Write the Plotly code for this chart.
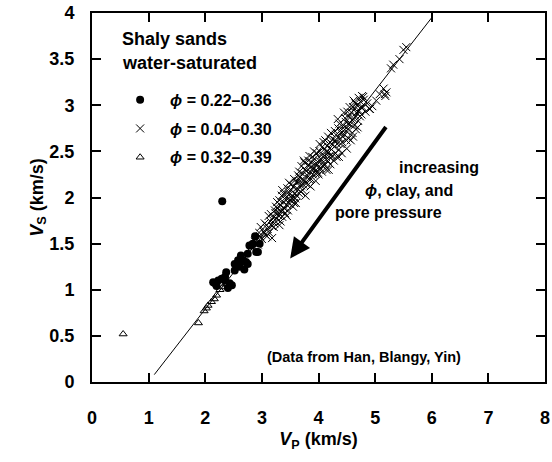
import plotly.graph_objects as go

# ---- data ----
circ_vp = [2.14, 2.17, 2.23, 2.29, 2.35, 2.35, 2.43, 2.37, 2.52, 2.52, 2.61, 2.58, 2.67, 2.72, 2.75,
           2.75, 2.78, 2.84, 2.93, 2.81, 2.90, 2.96, 2.63, 2.20, 2.40, 2.47, 2.69, 2.88, 2.30]
circ_vs = [1.08, 1.07, 1.10, 1.12, 1.10, 1.14, 1.07, 1.19, 1.28, 1.21, 1.25, 1.32, 1.32, 1.30, 1.28,
           1.39, 1.48, 1.50, 1.41, 1.48, 1.41, 1.50, 1.37, 1.04, 1.02, 1.05, 1.22, 1.58, 1.96]

cross_vp = [2.82, 2.88, 2.93, 2.97, 3.00, 3.03, 3.06, 3.08, 3.10, 3.13, 3.15, 3.18, 3.20, 2.95, 3.12,
            3.22, 3.24, 3.26, 3.28, 3.30, 3.32, 3.34, 3.36, 3.38, 3.40, 3.42, 3.44, 3.46, 3.48, 3.50,
            3.52, 3.54, 3.56, 3.58, 3.60, 3.27, 3.35, 3.45, 3.55, 3.33,
            3.62, 3.63, 3.65, 3.67, 3.69, 3.71, 3.72, 3.74, 3.76, 3.78, 3.80, 3.81, 3.83, 3.85, 3.86,
            3.88, 3.90, 3.91, 3.93, 3.95, 3.96, 3.98, 3.99, 3.70, 3.84, 3.66, 3.92, 3.77,
            4.01, 4.03, 4.05, 4.06, 4.08, 4.10, 4.11, 4.13, 4.15, 4.16, 4.18, 4.20, 4.21, 4.23, 4.25,
            4.26, 4.28, 4.30, 4.31, 4.33, 4.35, 4.36, 4.38, 4.40, 4.12, 4.22, 4.07, 4.27, 4.34, 4.18,
            4.42, 4.44, 4.46, 4.48, 4.50, 4.52, 4.54, 4.56, 4.58, 4.60, 4.62, 4.64, 4.66, 4.68, 4.70,
            4.72, 4.74, 4.76, 4.78, 4.80, 4.83, 4.86, 4.90, 4.57, 4.69, 4.45, 4.62, 4.95, 5.02, 5.08,
            5.17, 5.15, 5.20, 4.79, 4.91,
            5.28, 5.32, 5.43, 5.50, 5.55, 5.18,
            2.98, 3.05, 3.09, 3.16, 3.21, 3.25, 3.29, 3.31, 3.37, 3.39,
            3.41, 3.43, 3.47, 3.49, 3.51, 3.53, 3.57, 3.59, 3.61, 3.64,
            3.68, 3.73, 3.75, 3.79, 3.82, 3.87, 3.89, 3.94, 3.97, 4.00,
            4.02, 4.04, 4.09, 4.14, 4.17, 4.19, 4.24, 4.29, 4.32, 4.37,
            4.39, 4.41, 4.43, 4.47, 4.49, 4.51, 4.53, 4.55, 4.59, 4.61,
            4.63, 4.65, 4.67, 4.71, 4.73, 4.75, 4.77,
            3.23, 3.36, 3.48, 3.62, 3.74, 3.87, 4.02, 4.14, 4.29, 4.41, 4.53, 4.66,
            3.18, 3.31, 3.44, 3.57, 3.69, 3.82, 3.95, 4.08, 4.21, 4.36, 4.49, 4.61]
cross_vs = [1.47, 1.52, 1.49, 1.58, 1.55, 1.63, 1.60, 1.70, 1.66, 1.62, 1.74, 1.69, 1.78, 1.62, 1.80,
            1.72, 1.83, 1.77, 1.88, 1.80, 1.92, 1.85, 1.79, 1.95, 1.88, 2.00, 1.92, 1.86, 2.03, 1.97,
            2.08, 1.99, 2.12, 2.04, 1.94, 1.95, 2.02, 2.10, 1.90, 1.74,
            2.10, 2.18, 2.05, 2.22, 2.13, 2.26, 2.08, 2.19, 2.30, 2.15, 2.24, 2.35, 2.20, 2.28, 2.12,
            2.38, 2.25, 2.32, 2.42, 2.18, 2.30, 2.36, 2.27, 2.34, 2.45, 2.28, 2.50, 2.02,
            2.40, 2.32, 2.46, 2.28, 2.38, 2.52, 2.35, 2.44, 2.56, 2.40, 2.49, 2.60, 2.36, 2.52, 2.45,
            2.63, 2.55, 2.48, 2.68, 2.58, 2.75, 2.52, 2.64, 2.70, 2.62, 2.70, 2.55, 2.40, 2.85, 2.30,
            2.60, 2.78, 2.68, 2.82, 2.53, 2.74, 2.88, 2.79, 2.92, 2.70, 2.85, 2.96, 2.88, 3.00, 2.83,
            2.94, 3.04, 2.90, 2.98, 3.06, 2.93, 3.02, 2.96, 2.62, 2.76, 2.92, 3.05, 2.99, 3.05, 3.12,
            3.12, 3.18, 3.14, 3.09, 2.96,
            3.40, 3.44, 3.50, 3.60, 3.63, 3.10,
            1.68, 1.72, 1.58, 1.82, 1.68, 1.90, 1.84, 1.97, 1.86, 2.04,
            1.83, 1.97, 2.06, 1.93, 2.14, 2.02, 2.20, 1.99, 2.16, 2.24,
            2.18, 2.14, 2.38, 2.29, 2.40, 2.20, 2.44, 2.36, 2.48, 2.25,
            2.50, 2.42, 2.60, 2.50, 2.66, 2.44, 2.58, 2.72, 2.44, 2.80,
            2.58, 2.74, 2.66, 2.86, 2.72, 2.93, 2.64, 2.98, 2.84, 2.98,
            2.78, 3.02, 2.92, 3.08, 2.88, 2.98, 3.10,
            1.86, 2.08, 2.16, 2.02, 2.40, 2.33, 2.58, 2.30, 2.62, 2.48, 2.80, 2.74,
            1.56, 1.70, 1.80, 1.94, 2.06, 2.14, 2.26, 2.34, 2.46, 2.44, 2.62, 2.66]

tri_vp = [0.55, 1.88, 1.98, 2.02, 2.05, 2.11, 2.16, 2.20, 2.26, 2.31, 2.36]
tri_vs = [0.52, 0.64, 0.77, 0.80, 0.83, 0.87, 0.90, 0.94, 1.00, 1.03, 1.06]

line_vp = [1.10, 6.00]
line_vs = [0.08, 3.95]

arrow_from = (5.21, 2.78)
arrow_to = (3.50, 1.34)

legend_title = ["Shaly sands", "water-saturated"]
legend_names = ["<i>ϕ</i> = 0.22–0.36", "<i>ϕ</i> = 0.04–0.30", "<i>ϕ</i> = 0.32–0.39"]

FONT = "Liberation Sans, Arial, sans-serif"

fig = go.Figure()
fig.add_trace(go.Scatter(x=line_vp, y=line_vs, mode="lines",
                         line=dict(color="black", width=1), showlegend=False, hoverinfo="skip"))
fig.add_trace(go.Scatter(x=circ_vp, y=circ_vs, mode="markers", name=legend_names[0],
                         legendgroup="a",
                         marker=dict(symbol="circle", size=8, color="black")))
fig.add_trace(go.Scatter(x=cross_vp, y=cross_vs, mode="markers", name=legend_names[1],
                         legendgroup="b",
                         marker=dict(symbol="x-thin-open", size=8, color="black",
                                     line=dict(width=1, color="black"))))
fig.add_trace(go.Scatter(x=tri_vp, y=tri_vs, mode="markers", name=legend_names[2],
                         legendgroup="c",
                         marker=dict(symbol="triangle-up-open", size=7, color="black",
                                     line=dict(width=1, color="black"))))

fig.add_annotation(x=arrow_to[0], y=arrow_to[1], ax=arrow_from[0], ay=arrow_from[1],
                   xref="x", yref="y", axref="x", ayref="y", text="", showarrow=True,
                   arrowhead=2, arrowsize=1, arrowwidth=4, arrowcolor="black")

txt_font = dict(family=FONT, size=16, color="black", weight="bold")
fig.add_annotation(x=6.12, y=2.32, xref="x", yref="y", text="increasing", showarrow=False,
                   font=txt_font, xanchor="center", yanchor="middle")
fig.add_annotation(x=5.60, y=2.08, xref="x", yref="y", text="<i>ϕ</i>, clay, and", showarrow=False,
                   font=txt_font, xanchor="center", yanchor="middle")
fig.add_annotation(x=5.23, y=1.84, xref="x", yref="y", text="pore pressure", showarrow=False,
                   font=txt_font, xanchor="center", yanchor="middle")
fig.add_annotation(x=4.81, y=0.27, xref="x", yref="y", text="(Data from Han, Blangy, Yin)",
                   showarrow=False, font=dict(family=FONT, size=14.5, color="black", weight="bold"),
                   xanchor="center", yanchor="middle")

title_font = dict(family=FONT, size=18, color="black", weight="bold")
fig.add_annotation(x=0.061, y=0.93, xref="paper", yref="paper", text=legend_title[0],
                   showarrow=False, font=title_font, xanchor="left", yanchor="middle")
fig.add_annotation(x=0.061, y=0.864, xref="paper", yref="paper", text=legend_title[1],
                   showarrow=False, font=title_font, xanchor="left", yanchor="middle")

axis_common = dict(showline=True, linewidth=2, linecolor="black", mirror="ticks",
                   ticks="inside", ticklen=9, tickwidth=1.5, tickcolor="black",
                   showgrid=False, zeroline=False, ticklabeloverflow="allow",
                   tickfont=dict(family=FONT, size=18, color="black", weight="bold"))

fig.update_xaxes(range=[0, 8], dtick=1, tick0=0, ticklabelstandoff=18,
                 title=dict(text="<b><i>V</i><sub>P</sub> (km/s)</b>", standoff=6,
                            font=dict(family=FONT, size=18, color="black")),
                 **axis_common)
fig.update_yaxes(range=[0, 4], dtick=0.5, tick0=0, ticklabelstandoff=12,
                 title=dict(text="<b><i>V</i><sub>S</sub> (km/s)</b>", standoff=0,
                            font=dict(family=FONT, size=18, color="black")),
                 **axis_common)

fig.update_layout(
    width=552, height=462,
    margin=dict(l=92, r=2, t=13, b=80),
    plot_bgcolor="white", paper_bgcolor="white",
    showlegend=True,
    legend=dict(x=0.04, y=0.811, xanchor="left", yanchor="top",
                bgcolor="rgba(0,0,0,0)", borderwidth=0,
                itemwidth=50, tracegroupgap=5,
                font=dict(family=FONT, size=16, color="black", weight="bold")),
)

fig.write_html("out.html")
